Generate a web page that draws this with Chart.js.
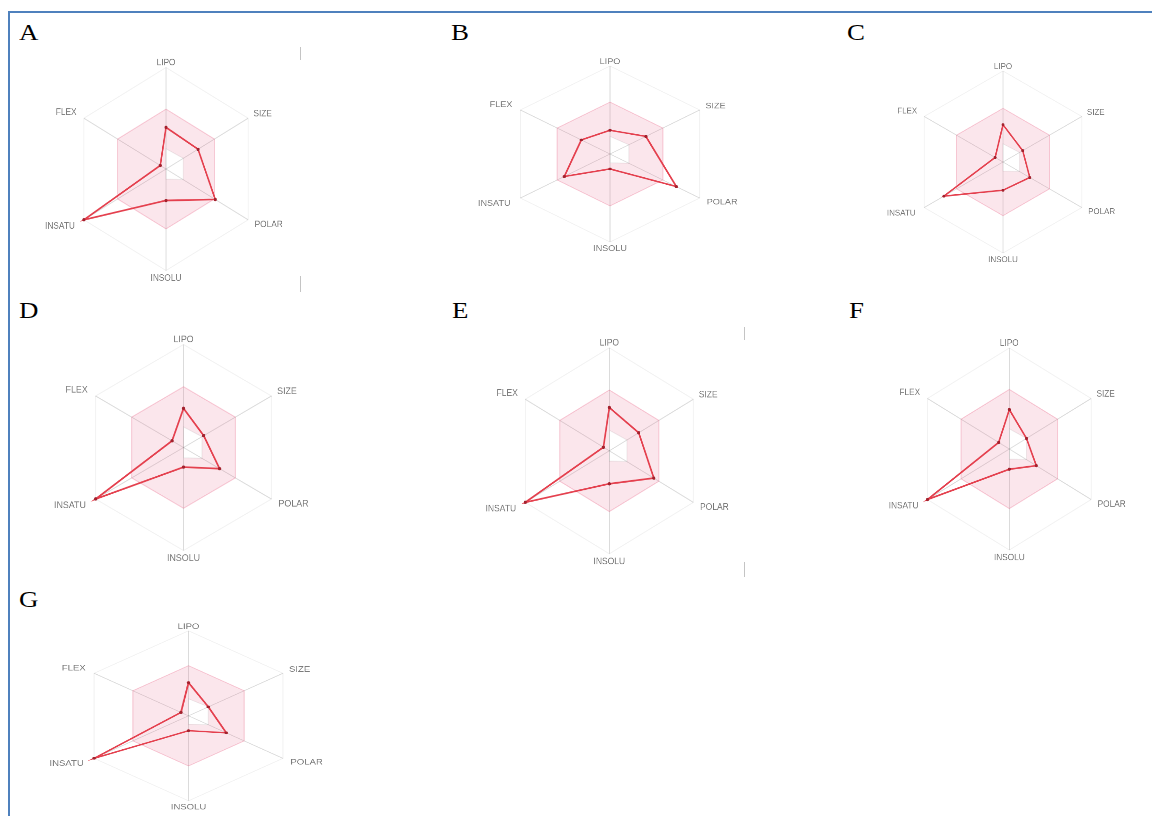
<!DOCTYPE html>
<html>
<head>
<meta charset="utf-8">
<script src="https://cdn.jsdelivr.net/npm/chart.js@4.4.1/dist/chart.umd.min.js"></script>
<style>
  html, body { margin: 0; padding: 0; background: #fff; }
  #stage { position: relative; width: 1152px; height: 816px; overflow: hidden; background: #fff; }
  .frame { position: absolute; left: 8px; top: 11px; width: 1150px; height: 810px;
           border-top: 2px solid #4f81bd; border-left: 2px solid #4f81bd; box-sizing: border-box; }
  .wrap { position: absolute; left: 0; top: 0; transform-origin: 0 0; }
  .letter { position: absolute; font-family: "Liberation Serif", "Times New Roman", serif;
            font-size: 24px; line-height: 24px; color: #000; transform: scaleX(1.12); transform-origin: 0 0; }
  .tick { position: absolute; width: 1px; background: #c4c4c4; }
</style>
</head>
<body>
<div id="stage">
  <div class="frame"></div>
</div>
<script>
// ---- data ----
const axisLabels = ['LIPO', 'SIZE', 'POLAR', 'INSOLU', 'INSATU', 'FLEX'];
const optimalUpper = [0.59, 0.59, 0.59, 0.59, 0.59, 0.59];
const optimalLower = [0.20, 0.21, 0.21, 0.10, 0, 0];
const compoundA = [0.41, 0.39, 0.60, 0.31, 1.00, 0.07];
const compoundB = [0.27, 0.40, 0.74, 0.17, 0.51, 0.32];
const compoundC = [0.41, 0.25, 0.34, 0.31, 0.75, 0.10];
const compoundD = [0.38, 0.23, 0.41, 0.19, 1.00, 0.13];
const compoundE = [0.42, 0.35, 0.53, 0.32, 1.00, 0.07];
const compoundF = [0.39, 0.21, 0.33, 0.20, 1.00, 0.13];
const compoundG = [0.39, 0.21, 0.40, 0.175, 1.00, 0.08];
const panelLetters = ['A', 'B', 'C', 'D', 'E', 'F', 'G'];
const panelValues = [compoundA, compoundB, compoundC, compoundD, compoundE, compoundF, compoundG];

// ---- layout (placement of each radar in the page) ----
const layout = [
  { cx: 166,    cy: 169,   rx: 94.8,  ry: 101.5, lx: 19,  ly: 20 },
  { cx: 610,    cy: 154,   rx: 103.5, ry: 88,    lx: 451, ly: 20 },
  { cx: 1003,   cy: 162,   rx: 91,    ry: 91,    lx: 847, ly: 20 },
  { cx: 183.5,  cy: 447.5, rx: 101.5, ry: 103,   lx: 19,  ly: 298 },
  { cx: 609.3,  cy: 450.8, rx: 97,    ry: 103,   lx: 452, ly: 298 },
  { cx: 1009.3, cy: 449,   rx: 94.5,  ry: 101,   lx: 849, ly: 298 },
  { cx: 188.5,  cy: 715.8, rx: 109,   ry: 85,    lx: 19,  ly: 587 }
];
// distance of each axis label from the outer ring (LIPO, SIZE, POLAR, INSOLU, INSATU, FLEX)
const labelPadding = [3.5, 6.5, 8, 6.5, 11, 9];
const artifactTicks = [
  { x: 300, y: 47, h: 13 }, { x: 300, y: 276, h: 16 },
  { x: 744, y: 327, h: 13 }, { x: 744, y: 562, h: 15 }
];

const stage = document.getElementById('stage');
const SIZE = 256;

artifactTicks.forEach(t => {
  const d = document.createElement('div');
  d.className = 'tick';
  d.style.left = t.x + 'px'; d.style.top = t.y + 'px'; d.style.height = t.h + 'px';
  stage.appendChild(d);
});

panelLetters.forEach((letter, i) => {
  const L = layout[i];
  const wrap = document.createElement('div');
  wrap.className = 'wrap';
  const canvas = document.createElement('canvas');
  canvas.width = SIZE; canvas.height = SIZE;
  canvas.style.width = SIZE + 'px'; canvas.style.height = SIZE + 'px';
  wrap.appendChild(canvas);
  stage.appendChild(wrap);

  const chart = new Chart(canvas, {
    type: 'radar',
    data: {
      labels: axisLabels,
      datasets: [
        {
          data: panelValues[i],
          borderColor: '#e4404e',
          borderWidth: 1.7,
          backgroundColor: 'rgba(0,0,0,0)',
          fill: false,
          pointRadius: 1.6,
          pointBorderWidth: 0,
          pointBackgroundColor: '#a3222e',
          tension: 0
        },
        {
          data: optimalUpper,
          borderColor: 'rgba(230,80,120,0.28)',
          borderWidth: 1,
          backgroundColor: 'rgba(230,80,120,0.14)',
          fill: '+1',
          pointRadius: 0,
          tension: 0
        },
        {
          data: optimalLower,
          borderColor: 'rgba(120,120,120,0.13)',
          borderWidth: 1,
          backgroundColor: 'rgba(0,0,0,0)',
          fill: false,
          pointRadius: 0,
          tension: 0
        }
      ]
    },
    options: {
      responsive: false,
      animation: false,
      devicePixelRatio: 2,
      events: [],
      plugins: { legend: { display: false }, tooltip: { enabled: false } },
      scales: {
        r: {
          min: 0, max: 1,
          ticks: { display: false, stepSize: 1 },
          grid: { color: 'rgba(0,0,0,0.055)', lineWidth: 1 },
          angleLines: { color: 'rgba(0,0,0,0.14)', lineWidth: 1 },
          pointLabels: {
            padding: (ctx) => labelPadding[ctx.index],
            color: '#777777',
            font: { family: 'Liberation Sans, Arial, sans-serif', size: 8.8, lineHeight: 0.25 }
          }
        }
      }
    }
  });

  const s = chart.scales.r;
  const sx = L.rx / s.drawingArea;
  const sy = L.ry / s.drawingArea;
  const tx = L.cx - sx * s.xCenter;
  const ty = L.cy - sy * s.yCenter;
  wrap.style.transform = `translate(${tx}px, ${ty}px) scale(${sx}, ${sy})`;

  const lab = document.createElement('div');
  lab.className = 'letter';
  lab.textContent = letter;
  lab.style.left = L.lx + 'px';
  lab.style.top = L.ly + 'px';
  stage.appendChild(lab);
});
</script>
</body>
</html>
